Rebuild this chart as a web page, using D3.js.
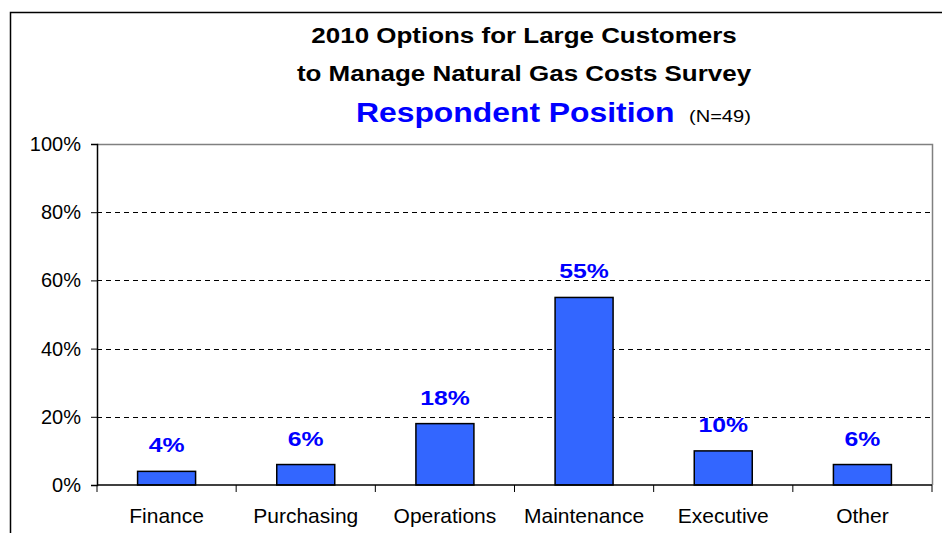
<!DOCTYPE html>
<html>
<head>
<meta charset="utf-8">
<script src="https://cdn.jsdelivr.net/npm/d3@7"></script>
<style>
  html, body { margin: 0; padding: 0; background: #fff; }
  svg { display: block; font-family: "Liberation Sans", Arial, sans-serif; }
</style>
</head>
<body>
<svg id="chart" width="942" height="533"></svg>
<script>
// Survey results: share of respondents by job position
const categories = ["Finance", "Purchasing", "Operations", "Maintenance", "Executive", "Other"];
const shares = [4, 6, 18, 55, 10, 6];
const yTicks = [0, 20, 40, 60, 80, 100];
const titleLines = ["2010 Options for Large Customers", "to Manage Natural Gas Costs Survey"];
const subtitle = "Respondent Position";
const sampleNote = "(N=49)";

const svg = d3.select("#chart");
const plot = { left: 97, right: 932, top: 144, bottom: 485 };
const wide = 1.18; // horizontal stretch used for the heading and value labels

// Outer frame
svg.append("rect")
  .attr("x", 10.5).attr("y", 12.5)
  .attr("width", 960).attr("height", 560)
  .attr("fill", "none").attr("stroke", "#000").attr("stroke-width", 1.5);

const x = d3.scaleBand().domain(categories).range([plot.left, plot.right]).paddingInner(0).paddingOuter(0);
const y = d3.scaleLinear().domain([0, 100]).range([plot.bottom, plot.top]);

// Dashed gridlines
svg.append("g").selectAll("line")
  .data(yTicks.filter(t => t > 0 && t < 100))
  .join("line")
  .attr("x1", plot.left).attr("x2", plot.right)
  .attr("y1", d => Math.round(y(d)) + 0.5).attr("y2", d => Math.round(y(d)) + 0.5)
  .attr("stroke", "#000").attr("stroke-width", 1)
  .attr("stroke-dasharray", "5,4");

// Plot area border (top and right)
svg.append("path")
  .attr("d", `M${plot.left},${plot.top + 0.5}H${plot.right + 0.5}V${plot.bottom}`)
  .attr("fill", "none").attr("stroke", "#808080").attr("stroke-width", 1.5);

// Bars
const barW = 58;
const rows = categories.map((c, i) => ({ c, v: shares[i] }));
svg.append("g").selectAll("rect")
  .data(rows)
  .join("rect")
  .attr("x", d => x(d.c) + x.bandwidth() / 2 - barW / 2)
  .attr("y", d => y(d.v))
  .attr("width", barW)
  .attr("height", d => y(0) - y(d.v))
  .attr("fill", "#3366FF")
  .attr("stroke", "#000").attr("stroke-width", 1.5);

// Value labels
svg.append("g").selectAll("text")
  .data(rows)
  .join("text")
  .attr("transform", d => `translate(${x(d.c) + x.bandwidth() / 2},${y(d.v) - 19}) scale(${wide},1)`)
  .attr("text-anchor", "middle")
  .attr("font-size", 21).attr("font-weight", "bold")
  .attr("fill", "#0000FF")
  .text(d => d.v + "%");

// Y axis
const yAxis = svg.append("g")
  .attr("transform", `translate(${plot.left},0)`)
  .call(d3.axisLeft(y).tickValues(yTicks).tickFormat(d => d + "%").tickSize(6).tickPadding(10));
yAxis.select(".domain").attr("stroke", "#000").attr("stroke-width", 1.5);
yAxis.selectAll(".tick line").attr("stroke", "#000");
yAxis.selectAll("text").attr("font-size", 20).attr("fill", "#000")
  .attr("font-family", "Liberation Sans, Arial, sans-serif");

// X axis with ticks at category boundaries
const xAxisG = svg.append("g").attr("transform", `translate(0,${plot.bottom})`);
xAxisG.append("line")
  .attr("x1", plot.left).attr("x2", plot.right)
  .attr("stroke", "#000").attr("stroke-width", 1.5);
const bounds = categories.map(c => x(c)).concat([x(categories[categories.length - 1]) + x.bandwidth()]);
xAxisG.selectAll("line.tk").data(bounds).join("line").attr("class", "tk")
  .attr("x1", d => d).attr("x2", d => d).attr("y1", 0).attr("y2", 7)
  .attr("stroke", "#000").attr("stroke-width", 1);
xAxisG.selectAll("text").data(categories).join("text")
  .attr("x", d => x(d) + x.bandwidth() / 2)
  .attr("y", 38)
  .attr("text-anchor", "middle")
  .attr("font-size", 21).attr("fill", "#000")
  .text(d => d);

// Titles
svg.append("g").selectAll("text").data(titleLines).join("text")
  .attr("transform", (d, i) => `translate(524,${43 + i * 38}) scale(${wide},1)`)
  .attr("text-anchor", "middle")
  .attr("font-size", 22).attr("font-weight", "bold").attr("fill", "#000")
  .text(d => d);

svg.append("text")
  .attr("transform", `translate(356,122) scale(${wide},1)`)
  .attr("font-size", 27).attr("font-weight", "bold").attr("fill", "#0000FF")
  .text(subtitle);
svg.append("text")
  .attr("transform", `translate(689,122) scale(${wide},1)`)
  .attr("font-size", 17).attr("fill", "#000")
  .text(sampleNote);
</script>
</body>
</html>
